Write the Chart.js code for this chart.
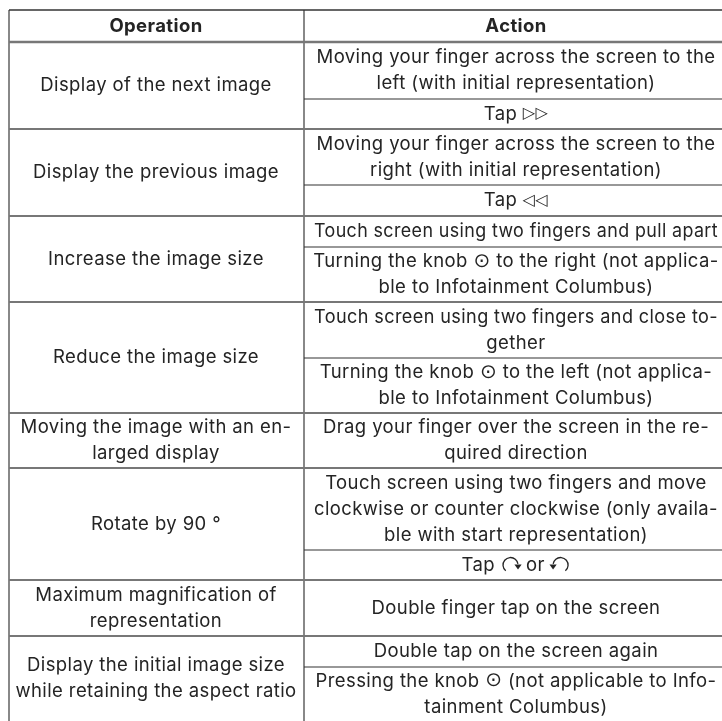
<!DOCTYPE html>
<html>
<head>
<meta charset="utf-8">
<style>html,body{margin:0;background:#fff}canvas{display:block}</style>
<script src="https://cdn.jsdelivr.net/npm/chart.js@4"></script>
</head>
<body>
<canvas id="tbl" width="722" height="721"></canvas>
<script>
const headers=['Operation','Action']
const operations=[
  ['Display of the next image'],
  ['Display the previous image'],
  ['Increase the image size'],
  ['Reduce the image size'],
  ['Moving the image with an en-','larged display'],
  ['Rotate by 90 °'],
  ['Maximum magnification of','representation'],
  ['Display the initial image size','while retaining the aspect ratio']
]
const actions=[
  ['Moving your finger across the screen to the','left (with initial representation)'],['Tap ▷▷'],
  ['Moving your finger across the screen to the','right (with initial representation)'],['Tap ◁◁'],
  ['Touch screen using two fingers and pull apart'],['Turning the knob ⊙ to the right (not applica-','ble to Infotainment Columbus)'],
  ['Touch screen using two fingers and close to-','gether'],['Turning the knob ⊙ to the left (not applica-','ble to Infotainment Columbus)'],
  ['Drag your finger over the screen in the re-','quired direction'],
  ['Touch screen using two fingers and move','clockwise or counter clockwise (only availa-','ble with start representation)'],['Tap ↷ or ↶'],
  ['Double finger tap on the screen'],
  ['Double tap on the screen again'],['Pressing the knob ⊙ (not applicable to Info-','tainment Columbus)']
]
// rule positions, in page px
const rowEdges=[42,129,216,302,413,468,580,636]
const actionEdges=[42,99,129,185,216,247,302,358,413,468,550,580,636,667,721]
const subEdges=[99,185,247,358,550,667]
const columnEdges=[9,304]
const columnCentres=[156,516]
const topEdge=10,headerEdge=42,rightEdge=722,bottomEdge=721

const font='"Inter",sans-serif'
const symbolFont='"DejaVu Sans"'
const symbolSize={'▷':16,'◁':16,'⊙':20}
const textColor='#242424'
const maxLine=404
const rule=(pts,color,width)=>({data:pts,showLine:true,borderColor:color,borderWidth:width,pointRadius:0,clip:false})
const hline=(y,color,width,x0=columnEdges[0])=>rule([{x:x0,y},{x:rightEdge,y}],color,width)
const vline=x=>rule([{x,y:topEdge},{x,y:bottomEdge}],'#3a3a3a',1.2)

const datasets=[
  hline(topEdge,'#333',1.5),
  ...rowEdges.map(y=>hline(y,'#777',y===headerEdge?2.5:2)),
  ...subEdges.map(y=>hline(y,'#333',1.2,columnEdges[1])),
  ...columnEdges.map(vline)
]

// the turn arrows have no close glyph in the installed fonts
function turnIcon(ctx,x0,cy,dir){
  const r=7.5,cx=x0+10
  ctx.save()
  ctx.translate(cx,cy)
  ctx.scale(dir,1)
  ctx.strokeStyle=textColor
  ctx.lineWidth=1.3
  ctx.beginPath()
  ctx.arc(0,0,r,Math.PI*0.72,Math.PI*1.95)
  ctx.stroke()
  ctx.beginPath()
  ctx.moveTo(r-3.6,-0.5)
  ctx.lineTo(r+3.6,-0.5)
  ctx.lineTo(r,4.5)
  ctx.closePath()
  ctx.fill()
  ctx.restore()
}

const cellText={
  id:'cellText',
  afterDatasetsDraw(chart){
    const {ctx,scales:{x,y}}=chart
    // split a line so the symbols can go in their own font
    const runsOf=t=>t.split(/([▷◁⊙↷↶])/).filter(Boolean)
    const fontOf=(r,base)=>symbolSize[r]?symbolSize[r]+'px '+symbolFont:base
    const drawLine=(t,cx,cy,base)=>{
      const runs=runsOf(t)
      const widths=runs.map(r=>{
        if(r==='↷'||r==='↶') return 20
        ctx.font=fontOf(r,base)
        return Math.min(ctx.measureText(r).width,maxLine)
      })
      let at=cx-widths.reduce((a,b)=>a+b,0)/2
      runs.forEach((r,i)=>{
        if(r==='↷') turnIcon(ctx,at,cy,1)
        else if(r==='↶') turnIcon(ctx,at,cy,-1)
        else{
          ctx.font=fontOf(r,base)
          ctx.fillText(r,at,cy,maxLine)
        }
        at+=widths[i]
      })
    }
    const put=(lines,cx,top,bottom,base)=>{
      const pitch=26
      const mid=(y.getPixelForValue(top)+y.getPixelForValue(bottom))/2
      lines.forEach((t,i)=>drawLine(t,x.getPixelForValue(cx),mid+(i-(lines.length-1)/2)*pitch,base))
    }
    ctx.save()
    ctx.fillStyle=textColor
    ctx.textAlign='left'
    ctx.textBaseline='middle'
    ctx.letterSpacing='0.4px'
    const bold='700 18.5px '+font, plain='400 18.5px '+font
    put([headers[0]],columnCentres[0],topEdge,headerEdge,bold)
    put([headers[1]],columnCentres[1],topEdge,headerEdge,bold)
    const rowBounds=[...rowEdges,bottomEdge]
    operations.forEach((l,i)=>put(l,columnCentres[0],rowBounds[i],rowBounds[i+1],plain))
    actions.forEach((l,i)=>put(l,columnCentres[1],actionEdges[i],actionEdges[i+1],plain))
    ctx.restore()
  }
}

new Chart(document.getElementById('tbl'),{
  type:'scatter',
  data:{datasets},
  plugins:[cellText],
  options:{
    responsive:false,
    animation:false,
    events:[],
    layout:{padding:0},
    plugins:{legend:{display:false},tooltip:{enabled:false},title:{display:false}},
    scales:{
      x:{type:'linear',display:false,min:0,max:722},
      y:{type:'linear',display:false,min:0,max:721,reverse:true}
    }
  }
})
</script>
</body>
</html>
